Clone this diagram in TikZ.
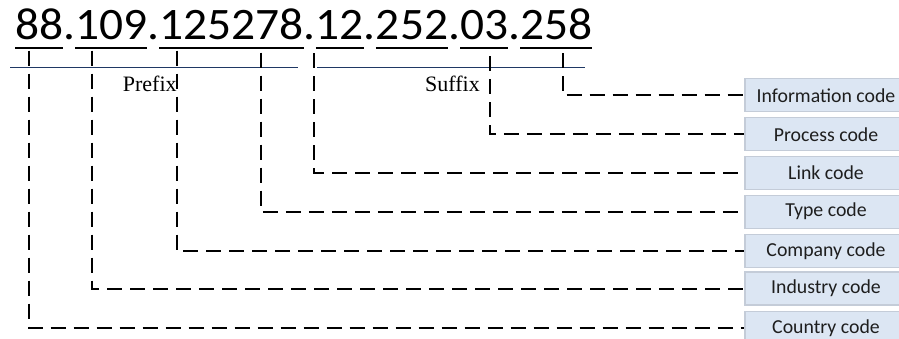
\documentclass[tikz,border=0pt]{standalone}
\usepackage{graphicx}
\usepackage{fontspec}
\setmainfont{Carlito}
\newfontfamily\numfont{Carlito}
\newfontfamily\serifx{Liberation Serif}
\newcommand\ulx[1]{\setbox0\hbox{#1}\rlap{\rule[-10pt]{\wd0}{2pt}}\box0}
\definecolor{boxfill}{RGB}{220,230,243}
\definecolor{boxline}{RGB}{196,204,216}
\definecolor{navyline}{RGB}{31,56,100}
\definecolor{codetext}{RGB}{30,30,30}
\tikzset{
  codebox/.style={draw=boxline, fill=boxfill, line width=1.2pt, minimum width=162pt,
    minimum height=33pt, inner sep=0pt, text=codetext, font=\fontsize{19.8}{20}\selectfont},
  conn/.style={draw=black, line width=2pt, dash pattern=on 15pt off 8pt},
  blueline/.style={draw=navyline, line width=1.6pt},
  lbl/.style={anchor=base west, inner sep=0pt, font=\serifx\fontsize{22}{22}\selectfont}
}
\begin{document}
\begin{tikzpicture}[x=1pt,y=-1pt]
\clip (0,0) rectangle (899,338);
\fill[white] (0,0) rectangle (899,338);
% the number
\node[anchor=base west, inner sep=0pt, font={\numfont\fontsize{45}{45}\selectfont}] (num) at (15,39.3)
  {\scalebox{1.055}[1]{\ulx{88}.\ulx{109}.\ulx{125278}.\ulx{12}.\ulx{252}.\ulx{03}.\ulx{258}}};
% prefix / suffix rules
\coordinate (pa) at (10,67.5);
\coordinate (pb) at (298,67.5);
\coordinate (sa) at (317,67.5);
\coordinate (sb) at (585,67.5);
\draw[blueline] (pa) -- (pb);
\draw[blueline] (sa) -- (sb);
\node[lbl] (prefix) at (122.7,91.7) {Prefix};
\node[lbl] (suffix) at (425,91.7) {Suffix};
% code boxes
\node[codebox] (info)     at (826,95.3)  {Information code};
\node[codebox] (process)  at (826,134.2) {Process code};
\node[codebox] (link)     at (826,173)   {Link code};
\node[codebox] (type)     at (826,211.7) {Type code};
\node[codebox] (company)  at (826,250.8) {Company code};
\node[codebox] (industry) at (826,288.5) {Industry code};
\node[codebox] (country)  at (826,328)   {Country code};
% connector starts
\coordinate (s1) at (29,50.5);
\coordinate (s2) at (92.3,50.5);
\coordinate (s3) at (176.7,50.5);
\coordinate (s4) at (261,52.5);
\coordinate (s5) at (314,53);
\coordinate (s6) at (490,56);
\coordinate (s7) at (563,53);
\draw[conn] (s7) |- (info.west);
\draw[conn] (s6) |- (process.west);
\draw[conn] (s5) |- (link.west);
\draw[conn] (s4) |- (type.west);
\draw[conn] (s3) |- (company.west);
\draw[conn] (s2) |- (industry.west);
\draw[conn] (s1) |- (country.west);
\end{tikzpicture}
\end{document}
